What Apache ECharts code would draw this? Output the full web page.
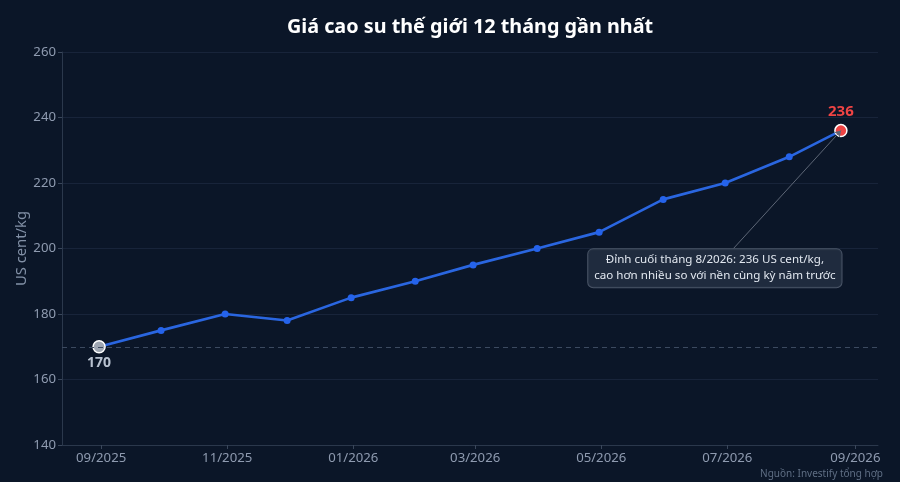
<!DOCTYPE html>
<html>
<head>
<meta charset="utf-8">
<style>
html,body{margin:0;padding:0;background:#0b1628;}
#c{width:900px;height:482px;}
</style>
<script src="https://cdn.jsdelivr.net/npm/echarts@6/dist/echarts.min.js"></script>
</head>
<body>
<div id="c"></div>
<script>
var dates = ['2025-08-31','2025-09-30','2025-10-31','2025-11-30','2025-12-31','2026-01-31','2026-02-28','2026-03-31','2026-04-30','2026-05-31','2026-06-30','2026-07-31','2026-08-25'];
var prices = [170, 175, 180, 178, 185, 190, 195, 200, 205, 215, 220, 228, 236];
var tickLabels = ['09/2025','11/2025','01/2026','03/2026','05/2026','07/2026','09/2026'];
var baseline = 170;
var titleText = 'Giá cao su thế giới 12 tháng gần nhất';
var sourceText = 'Nguồn: Investify tổng hợp';
var yName = 'US cent/kg';
var noteText = 'Đỉnh cuối tháng 8/2026: 236 US cent/kg,\ncao hơn nhiều so với nền cùng kỳ năm trước';
var noteBoxAt = ['2026-06-25', 194];
var noteLineFrom = ['2026-07-04', 200];

function ts(s) { return +echarts.number.parseDate(s); }
var tickValues = tickLabels.map(function (s) {
  var p = s.split('/');
  return ts(p[1] + '-' + p[0] + '-01');
});
function fmt(v) {
  var d = new Date(v);
  var m = d.getMonth() + 1;
  return (m < 10 ? '0' : '') + m + '/' + d.getFullYear();
}

var n = prices.length;
var seriesData = prices.map(function (v, i) {
  var item = { value: [ts(dates[i]), v] };
  if (i === 0) {
    item.symbolSize = 12;
    item.itemStyle = { color: '#9ea6b2', borderColor: '#ffffff', borderWidth: 1.5 };
    item.label = { show: true, position: 'bottom', distance: 3, formatter: String(v), color: '#b8c2d0', fontWeight: 'bold', fontSize: 14 };
  } else if (i === n - 1) {
    item.symbolSize = 12;
    item.itemStyle = { color: '#ef4444', borderColor: '#ffffff', borderWidth: 1.5 };
    item.label = { show: true, position: 'top', distance: 5, formatter: String(v), color: '#ef4444', fontWeight: 'bold', fontSize: 15 };
  }
  return item;
});

var chart = echarts.init(document.getElementById('c'), null, { renderer: 'canvas' });
chart.setOption({
  backgroundColor: '#0b1628',
  textStyle: { fontFamily: 'Noto Sans' },
  title: [
    { text: titleText, left: 465, textAlign: 'center', top: 12, textStyle: { color: '#ffffff', fontSize: 19.8, fontWeight: 'bold', fontFamily: 'Noto Sans' } },
    { text: sourceText, right: 17, top: 469, padding: 0, textStyle: { color: '#5f6e84', fontSize: 10, fontWeight: 'normal', fontFamily: 'Noto Sans' } }
  ],
  grid: { left: 62, right: 22, top: 52, bottom: 37 },
  xAxis: {
    type: 'value',
    scale: true,
    min: function (e) { return e.min - (e.max - e.min) * 0.05; },
    max: function (e) { return e.max + (e.max - e.min) * 0.05; },
    axisLine: { show: true, lineStyle: { color: '#2b384c', width: 1 } },
    axisTick: { show: true, customValues: tickValues, length: 4, lineStyle: { color: '#3a475b' } },
    axisLabel: { customValues: tickValues, formatter: fmt, color: '#8f9bb0', fontSize: 13.2, margin: 7, showMinLabel: true, showMaxLabel: true },
    splitLine: { show: false }
  },
  yAxis: {
    type: 'value',
    min: 140, max: 260, interval: 20,
    name: yName,
    nameLocation: 'middle',
    nameGap: 33,
    nameMoveOverlap: false,
    nameTextStyle: { color: '#8290a6', fontSize: 14.8 },
    axisLine: { show: true, lineStyle: { color: '#2b384c', width: 1 } },
    axisTick: { show: true, length: 4, lineStyle: { color: '#3a475b' } },
    axisLabel: { color: '#8f9bb0', fontSize: 13.2, margin: 6 },
    splitLine: { show: true, lineStyle: { color: '#18243a', width: 1 } }
  },
  series: [{
    type: 'line',
    data: seriesData,
    symbol: 'circle',
    symbolSize: 7,
    showAllSymbol: true,
    itemStyle: { color: '#2563eb' },
    lineStyle: { color: '#2a66e0', width: 2.6 },
    z: 3,
    markLine: {
      silent: true,
      animation: false,
      data: [
        { yAxis: baseline, symbol: 'none', lineStyle: { color: '#3c4a60', type: [5, 4], width: 1 }, label: { show: false } },
        [
          { coord: [ts(noteLineFrom[0]), noteLineFrom[1]], symbol: 'none' },
          { coord: [ts(dates[n - 1]), prices[n - 1]], symbol: 'arrow', symbolSize: 6 }
        ]
      ],
      lineStyle: { color: '#5d6676', width: 1, type: 'solid' },
      label: { show: false },
      symbol: ['none', 'none']
    },
    markPoint: {
      silent: true,
      animation: false,
      data: [{
        coord: [ts(noteBoxAt[0]), noteBoxAt[1]],
        symbol: 'rect',
        symbolSize: 1,
        itemStyle: { color: 'rgba(0,0,0,0)' },
        label: {
          show: true,
          position: 'inside',
          formatter: noteText,
          color: '#e2e8f0',
          fontSize: 11.6,
          lineHeight: 16,
          align: 'center',
          backgroundColor: 'rgba(34,46,64,0.92)',
          borderColor: '#4a5567',
          borderWidth: 1,
          borderRadius: 5,
          padding: [3, 6]
        }
      }]
    }
  }]
});
</script>
</body>
</html>
